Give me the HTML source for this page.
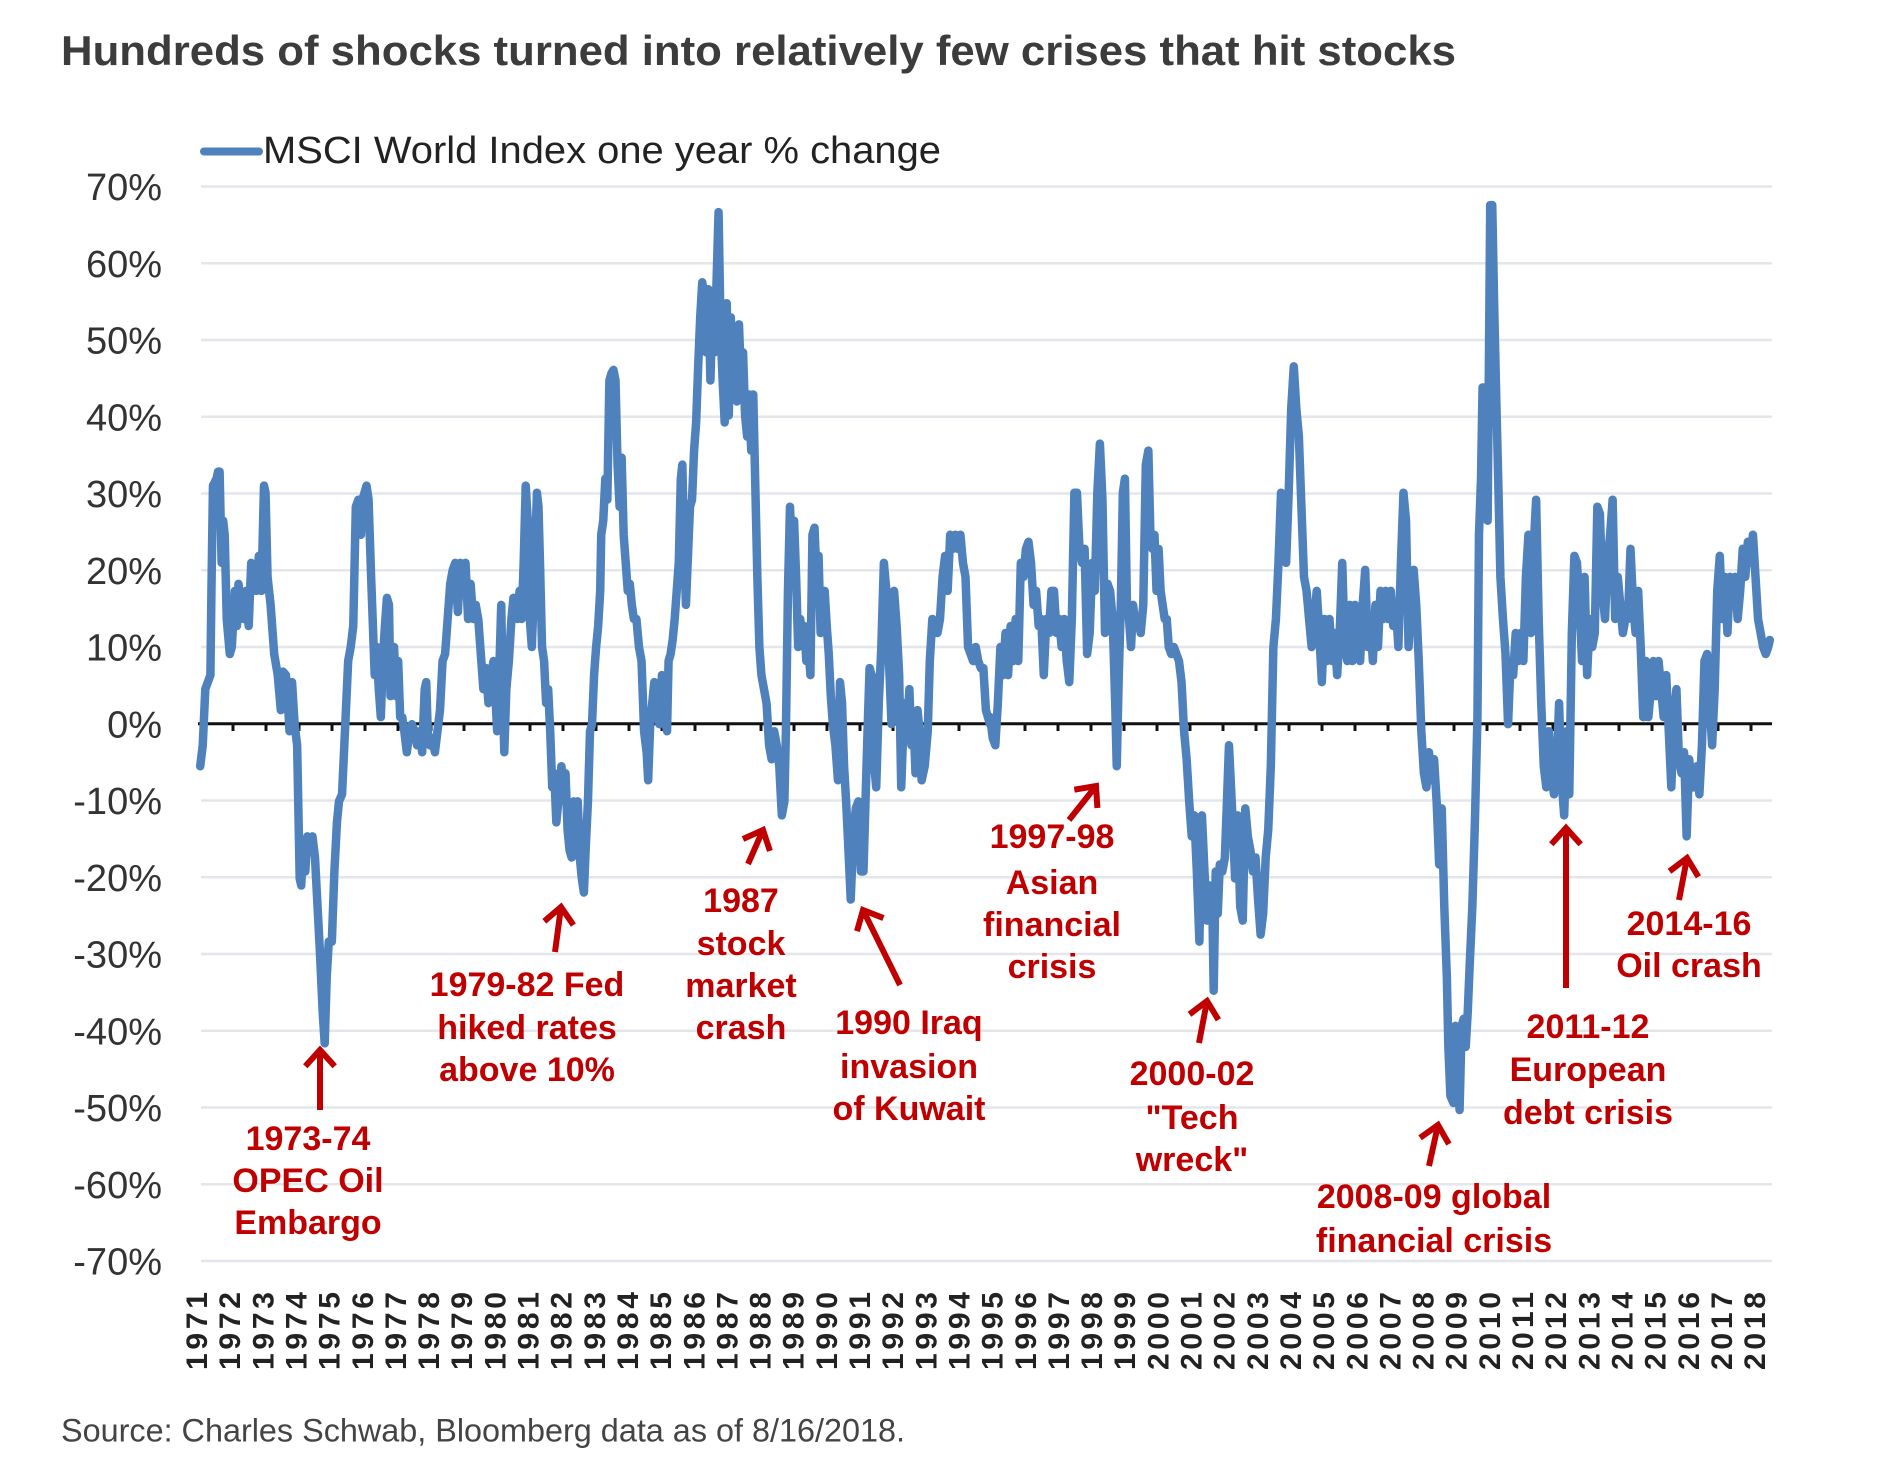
<!DOCTYPE html>
<html><head><meta charset="utf-8"><style>
html,body{margin:0;padding:0;background:#fff;}
svg{display:block;}
text{font-family:"Liberation Sans",Arial,sans-serif;}
</style></head><body>
<svg width="1901" height="1479" viewBox="0 0 1901 1479" xmlns="http://www.w3.org/2000/svg">
<rect width="1901" height="1479" fill="#fff"/>
<text x="61" y="65" font-size="42" font-weight="bold" fill="#3c3c3c" textLength="1395" lengthAdjust="spacingAndGlyphs">Hundreds of shocks turned into relatively few crises that hit stocks</text>
<line x1="204" y1="151.5" x2="259" y2="151.5" stroke="#4f81bd" stroke-width="8" stroke-linecap="round"/>
<text x="263" y="163" font-size="38" fill="#222" textLength="678" lengthAdjust="spacingAndGlyphs">MSCI World Index one year % change</text>
<g stroke="#e3e6ea" stroke-width="2.5">
<line x1="201" y1="186.5" x2="1772" y2="186.5"/><line x1="201" y1="263.25" x2="1772" y2="263.25"/><line x1="201" y1="340" x2="1772" y2="340"/><line x1="201" y1="416.75" x2="1772" y2="416.75"/><line x1="201" y1="493.5" x2="1772" y2="493.5"/><line x1="201" y1="570.25" x2="1772" y2="570.25"/><line x1="201" y1="647" x2="1772" y2="647"/><line x1="201" y1="800.5" x2="1772" y2="800.5"/><line x1="201" y1="877.25" x2="1772" y2="877.25"/><line x1="201" y1="954" x2="1772" y2="954"/><line x1="201" y1="1030.75" x2="1772" y2="1030.75"/><line x1="201" y1="1107.5" x2="1772" y2="1107.5"/><line x1="201" y1="1184.25" x2="1772" y2="1184.25"/><line x1="201" y1="1261" x2="1772" y2="1261"/>
</g>
<g font-size="38" fill="#333" text-anchor="end">
<text x="162" y="200">70%</text><text x="162" y="276.75">60%</text><text x="162" y="353.5">50%</text><text x="162" y="430.25">40%</text><text x="162" y="507">30%</text><text x="162" y="583.75">20%</text><text x="162" y="660.5">10%</text><text x="162" y="737.25">0%</text><text x="162" y="814">-10%</text><text x="162" y="890.75">-20%</text><text x="162" y="967.5">-30%</text><text x="162" y="1044.25">-40%</text><text x="162" y="1121">-50%</text><text x="162" y="1197.75">-60%</text><text x="162" y="1274.5">-70%</text>
</g>
<line x1="198" y1="723.75" x2="1772" y2="723.75" stroke="#111" stroke-width="3"/>
<path stroke="#111" stroke-width="3" fill="none" d="M233 723V731M266 723V731M299 723V731M332 723V731M365 723V731M398 723V731M431 723V731M464 723V731M497 723V731M530 723V731M563 723V731M596 723V731M629 723V731M662 723V731M695 723V731M728 723V731M761 723V731M794 723V731M827 723V731M860 723V731M893 723V731M926 723V731M959 723V731M992 723V731M1025 723V731M1058 723V731M1091 723V731M1124 723V731M1157 723V731M1190 723V731M1223 723V731M1256 723V731M1289 723V731M1322 723V731M1355 723V731M1388 723V731M1421 723V731M1454 723V731M1487 723V731M1520 723V731M1553 723V731M1586 723V731M1619 723V731M1652 723V731M1685 723V731M1718 723V731M1751 723V731"/>
<g transform="translate(190,170) scale(0.5102,0.7015)">
<polyline fill="none" stroke="#4f81bd" stroke-width="8.5" vector-effect="non-scaling-stroke" stroke-linejoin="round" stroke-linecap="round" points="20,850 25,820 30,740 40,720 42,600 45,450 52,440 55,430 58,430 62,560 65,500 68,520 72,640 78,690 82,680 88,600 92,650 95,590 100,620 105,640 110,600 115,650 120,560 125,590 130,600 135,550 140,600 145,450 148,460 152,580 158,620 165,690 172,720 178,770 182,715 188,720 192,760 195,800 200,730 205,790 210,820 215,1010 218,1020 222,960 226,1000 230,950 236,960 240,950 245,980 250,1050 255,1120 260,1200 264,1245 268,1150 272,1100 278,1100 283,1000 288,930 292,900 298,890 305,780 310,700 315,680 320,650 325,480 330,470 335,520 338,470 342,460 346,450 350,470 355,580 358,640 362,720 366,680 370,740 374,780 378,700 382,650 386,610 390,620 393,750 397,740 400,680 404,750 408,700 412,780 416,780 420,800 425,830 430,800 435,790 440,800 445,820 450,800 455,830 460,740 463,730 466,800 470,820 475,810 480,830 485,800 490,770 495,700 500,690 505,640 510,590 515,570 520,560 525,630 530,560 535,600 540,560 545,640 550,590 555,640 560,620 565,640 570,690 575,740 580,710 585,760 590,720 595,700 598,740 602,800 606,720 610,620 613,740 616,830 620,740 625,700 630,640 634,610 638,620 642,640 646,600 650,640 654,560 658,450 662,500 666,640 670,680 675,580 680,460 683,480 686,560 690,680 694,700 698,760 702,740 706,800 710,880 714,860 718,930 722,900 728,850 732,880 736,860 740,940 744,970 748,980 752,900 756,950 760,900 764,980 768,1010 772,1030 776,960 780,900 784,800 788,790 792,720 796,680 800,650 804,600 806,520 810,500 814,440 818,470 822,300 826,290 830,285 834,300 838,420 842,480 846,410 850,520 854,560 858,600 862,590 866,620 870,640 875,640 880,680 885,700 890,800 895,830 898,870 902,790 906,760 910,730 915,760 920,790 925,720 930,780 935,800 938,700 942,690 946,670 950,640 954,600 958,560 962,440 965,420 968,520 972,620 976,550 980,480 984,470 988,400 992,360 996,280 1000,210 1004,160 1008,180 1012,260 1016,170 1020,300 1024,200 1028,260 1032,160 1036,60 1040,230 1044,300 1048,360 1052,190 1056,350 1060,210 1064,300 1068,240 1072,330 1076,220 1080,300 1084,260 1088,350 1092,380 1096,320 1100,400 1104,320 1108,450 1112,580 1116,680 1120,720 1125,740 1130,760 1135,820 1140,840 1145,800 1150,820 1155,850 1160,920 1165,900 1168,800 1172,600 1176,480 1180,550 1184,500 1188,580 1192,680 1196,640 1200,670 1204,650 1208,700 1212,680 1216,720 1220,520 1224,510 1228,580 1232,550 1236,660 1240,620 1244,600 1248,650 1252,690 1256,750 1260,790 1265,820 1270,870 1274,730 1278,760 1282,850 1286,900 1290,960 1295,1040 1300,950 1305,910 1310,900 1315,1000 1320,1000 1324,900 1328,800 1332,710 1336,720 1340,840 1345,880 1350,760 1355,680 1360,560 1365,600 1370,700 1375,790 1380,600 1385,650 1390,720 1394,880 1398,800 1402,760 1406,790 1410,740 1414,820 1418,780 1422,860 1426,770 1430,800 1434,870 1440,850 1446,800 1450,700 1455,640 1460,650 1465,660 1470,640 1475,580 1480,550 1485,600 1490,520 1495,540 1500,520 1505,540 1510,520 1515,560 1520,580 1525,680 1530,690 1535,700 1540,680 1545,700 1550,710 1555,710 1560,770 1568,790"/>
</g>
<g transform="translate(980,170) scale(0.5102,0.7015)">
<polyline fill="none" stroke="#4f81bd" stroke-width="8.5" vector-effect="non-scaling-stroke" stroke-linejoin="round" stroke-linecap="round" points="20,780 25,810 30,820 35,760 40,680 45,720 50,660 55,720 60,650 65,700 70,640 75,700 80,560 85,580 90,540 95,530 100,560 105,620 110,600 115,650 120,640 125,720 130,640 135,660 140,600 145,600 150,660 155,640 160,680 165,640 170,700 175,730 180,640 185,460 190,460 195,540 200,560 205,540 210,690 215,660 220,560 225,600 230,460 235,390 240,470 245,660 250,590 255,600 260,640 265,760 268,850 272,720 276,620 280,460 284,440 288,620 292,640 296,680 300,620 305,650 310,640 315,660 320,620 325,420 330,400 334,520 338,540 342,520 346,600 350,540 354,600 358,620 362,640 366,640 370,680 375,690 380,680 385,690 390,700 395,730 400,800 405,840 410,900 415,950 420,920 425,1000 430,1100 435,920 440,1000 445,1070 450,1020 455,1030 458,1170 462,1000 466,1060 470,990 475,1000 480,980 484,900 488,820 492,880 496,940 500,1010 505,920 510,1050 515,1070 520,910 525,950 530,970 535,1000 540,980 545,1040 550,1090 555,1060 560,980 565,940 570,850 575,680 580,640 585,560 590,460 595,470 600,560 605,460 610,340 615,280 620,340 625,380 630,480 635,580 640,600 645,640 650,680 655,640 660,600 665,660 670,730 675,640 680,700 685,640 690,700 695,660 700,720 705,660 710,560 715,680 720,700 725,620 730,700 735,620 740,660 745,700 750,620 755,570 760,680 765,640 770,700 775,620 780,680 785,600 790,640 795,600 800,640 805,600 810,650 815,620 820,680 825,560 830,460 835,500 840,680 845,600 850,570 855,620 860,700 865,800 870,860 875,880 880,830 885,870 890,840 895,900 900,990 905,910 910,1050 915,1150 918,1250 922,1320 928,1330 932,1220 936,1300 940,1340 944,1220 948,1210 952,1250 956,1200 960,1130 965,1050 970,930 975,780 978,520 982,440 985,310 990,310 995,500 1000,50 1004,50 1008,200 1012,330 1016,450 1020,580 1025,640 1030,690 1035,790 1040,700 1045,720 1050,660 1055,700 1060,660 1065,700 1070,580 1075,520 1080,660 1085,540 1090,470 1095,640 1100,760 1105,850 1110,880 1115,800 1120,860 1125,890 1130,860 1135,760 1140,870 1145,920 1150,800 1155,890 1160,660 1165,550 1170,560 1175,620 1180,700 1185,580 1190,720 1195,640 1200,680 1205,660 1210,480 1215,490 1220,600 1225,640 1230,560 1235,520 1240,470 1245,640 1250,580 1255,620 1260,660 1265,640 1270,640 1275,540 1280,620 1285,660 1290,600 1295,680 1300,780 1305,700 1310,780 1315,740 1320,700 1325,750 1330,700 1335,740 1340,780 1345,720 1350,800 1355,880 1360,780 1365,740 1370,840 1375,860 1380,830 1385,950 1390,840 1395,880 1400,880 1405,850 1410,890 1415,820 1420,700 1425,690 1430,760 1435,820 1440,740 1445,600 1450,550 1455,640 1460,580 1465,660 1470,580 1475,600 1480,580 1485,640 1490,600 1495,540 1500,580 1505,530 1510,560 1515,520 1520,580 1525,640 1530,660 1535,680 1540,690 1545,680 1548,670"/>
</g>
<g stroke="#c00000" stroke-width="6" fill="none" stroke-linejoin="miter">
<path d="M320 1110L320 1050M305.3 1066.3L320 1050L334.7 1066.3"/>
<path d="M555 952L561 907M544.3 921.3L561 907L573.4 925.1"/>
<path d="M748 864L763 830M743 839L763 830L769.9 850.9"/>
<path d="M900 985L863 910M857 931.2L863 910L883.4 918.1"/>
<path d="M1069 820L1096 786M1074.3 789.7L1096 786L1097.4 808"/>
<path d="M1199 1043L1207 1001M1189.5 1014.3L1207 1001L1218.4 1019.8"/>
<path d="M1429 1166L1438 1125M1420.1 1137.8L1438 1125L1448.9 1144.1"/>
<path d="M1566 988L1566 828M1551.3 844.3L1566 828L1580.7 844.3"/>
<path d="M1679 900L1687 858M1669.5 871.3L1687 858L1698.4 876.8"/>
</g>
<g font-size="34" font-weight="bold" fill="#c00000" text-anchor="middle">
<text x="308" y="1150">1973-74</text><text x="308" y="1192">OPEC Oil</text><text x="308" y="1234">Embargo</text>
<text x="527" y="996">1979-82 Fed</text><text x="527" y="1039">hiked rates</text><text x="527" y="1081">above 10%</text>
<text x="741" y="912">1987</text><text x="741" y="955">stock</text><text x="741" y="997">market</text><text x="741" y="1039">crash</text>
<text x="909" y="1034">1990 Iraq</text><text x="909" y="1078">invasion</text><text x="909" y="1120">of Kuwait</text>
<text x="1052" y="848">1997-98</text><text x="1052" y="894">Asian</text><text x="1052" y="936">financial</text><text x="1052" y="978">crisis</text>
<text x="1192" y="1085">2000-02</text><text x="1192" y="1129">"Tech</text><text x="1192" y="1171">wreck"</text>
<text x="1434" y="1208">2008-09 global</text><text x="1434" y="1252">financial crisis</text>
<text x="1588" y="1038">2011-12</text><text x="1588" y="1081">European</text><text x="1588" y="1124">debt crisis</text>
<text x="1689" y="935">2014-16</text><text x="1689" y="977">Oil crash</text>
</g>
<g font-size="30" font-weight="bold" fill="#222" text-anchor="end" dominant-baseline="central">
<text transform="translate(197.5,1292) rotate(-90)" textLength="78" lengthAdjust="spacing">1971</text>
<text transform="translate(230.65,1292) rotate(-90)" textLength="78" lengthAdjust="spacing">1972</text>
<text transform="translate(263.8,1292) rotate(-90)" textLength="78" lengthAdjust="spacing">1973</text>
<text transform="translate(296.95,1292) rotate(-90)" textLength="78" lengthAdjust="spacing">1974</text>
<text transform="translate(330.1,1292) rotate(-90)" textLength="78" lengthAdjust="spacing">1975</text>
<text transform="translate(363.25,1292) rotate(-90)" textLength="78" lengthAdjust="spacing">1976</text>
<text transform="translate(396.4,1292) rotate(-90)" textLength="78" lengthAdjust="spacing">1977</text>
<text transform="translate(429.55,1292) rotate(-90)" textLength="78" lengthAdjust="spacing">1978</text>
<text transform="translate(462.7,1292) rotate(-90)" textLength="78" lengthAdjust="spacing">1979</text>
<text transform="translate(495.85,1292) rotate(-90)" textLength="78" lengthAdjust="spacing">1980</text>
<text transform="translate(529,1292) rotate(-90)" textLength="78" lengthAdjust="spacing">1981</text>
<text transform="translate(562.15,1292) rotate(-90)" textLength="78" lengthAdjust="spacing">1982</text>
<text transform="translate(595.3,1292) rotate(-90)" textLength="78" lengthAdjust="spacing">1983</text>
<text transform="translate(628.45,1292) rotate(-90)" textLength="78" lengthAdjust="spacing">1984</text>
<text transform="translate(661.6,1292) rotate(-90)" textLength="78" lengthAdjust="spacing">1985</text>
<text transform="translate(694.75,1292) rotate(-90)" textLength="78" lengthAdjust="spacing">1986</text>
<text transform="translate(727.9,1292) rotate(-90)" textLength="78" lengthAdjust="spacing">1987</text>
<text transform="translate(761.05,1292) rotate(-90)" textLength="78" lengthAdjust="spacing">1988</text>
<text transform="translate(794.2,1292) rotate(-90)" textLength="78" lengthAdjust="spacing">1989</text>
<text transform="translate(827.35,1292) rotate(-90)" textLength="78" lengthAdjust="spacing">1990</text>
<text transform="translate(860.5,1292) rotate(-90)" textLength="78" lengthAdjust="spacing">1991</text>
<text transform="translate(893.65,1292) rotate(-90)" textLength="78" lengthAdjust="spacing">1992</text>
<text transform="translate(926.8,1292) rotate(-90)" textLength="78" lengthAdjust="spacing">1993</text>
<text transform="translate(959.95,1292) rotate(-90)" textLength="78" lengthAdjust="spacing">1994</text>
<text transform="translate(993.1,1292) rotate(-90)" textLength="78" lengthAdjust="spacing">1995</text>
<text transform="translate(1026.25,1292) rotate(-90)" textLength="78" lengthAdjust="spacing">1996</text>
<text transform="translate(1059.4,1292) rotate(-90)" textLength="78" lengthAdjust="spacing">1997</text>
<text transform="translate(1092.55,1292) rotate(-90)" textLength="78" lengthAdjust="spacing">1998</text>
<text transform="translate(1125.7,1292) rotate(-90)" textLength="78" lengthAdjust="spacing">1999</text>
<text transform="translate(1158.85,1292) rotate(-90)" textLength="78" lengthAdjust="spacing">2000</text>
<text transform="translate(1192,1292) rotate(-90)" textLength="78" lengthAdjust="spacing">2001</text>
<text transform="translate(1225.15,1292) rotate(-90)" textLength="78" lengthAdjust="spacing">2002</text>
<text transform="translate(1258.3,1292) rotate(-90)" textLength="78" lengthAdjust="spacing">2003</text>
<text transform="translate(1291.45,1292) rotate(-90)" textLength="78" lengthAdjust="spacing">2004</text>
<text transform="translate(1324.6,1292) rotate(-90)" textLength="78" lengthAdjust="spacing">2005</text>
<text transform="translate(1357.75,1292) rotate(-90)" textLength="78" lengthAdjust="spacing">2006</text>
<text transform="translate(1390.9,1292) rotate(-90)" textLength="78" lengthAdjust="spacing">2007</text>
<text transform="translate(1424.05,1292) rotate(-90)" textLength="78" lengthAdjust="spacing">2008</text>
<text transform="translate(1457.2,1292) rotate(-90)" textLength="78" lengthAdjust="spacing">2009</text>
<text transform="translate(1490.35,1292) rotate(-90)" textLength="78" lengthAdjust="spacing">2010</text>
<text transform="translate(1523.5,1292) rotate(-90)" textLength="78" lengthAdjust="spacing">2011</text>
<text transform="translate(1556.65,1292) rotate(-90)" textLength="78" lengthAdjust="spacing">2012</text>
<text transform="translate(1589.8,1292) rotate(-90)" textLength="78" lengthAdjust="spacing">2013</text>
<text transform="translate(1622.95,1292) rotate(-90)" textLength="78" lengthAdjust="spacing">2014</text>
<text transform="translate(1656.1,1292) rotate(-90)" textLength="78" lengthAdjust="spacing">2015</text>
<text transform="translate(1689.25,1292) rotate(-90)" textLength="78" lengthAdjust="spacing">2016</text>
<text transform="translate(1722.4,1292) rotate(-90)" textLength="78" lengthAdjust="spacing">2017</text>
<text transform="translate(1755.55,1292) rotate(-90)" textLength="78" lengthAdjust="spacing">2018</text>
</g>
<text x="61" y="1441.5" font-size="32" fill="#444" textLength="844" lengthAdjust="spacingAndGlyphs">Source: Charles Schwab, Bloomberg data as of 8/16/2018.</text>
</svg>
</body></html>
